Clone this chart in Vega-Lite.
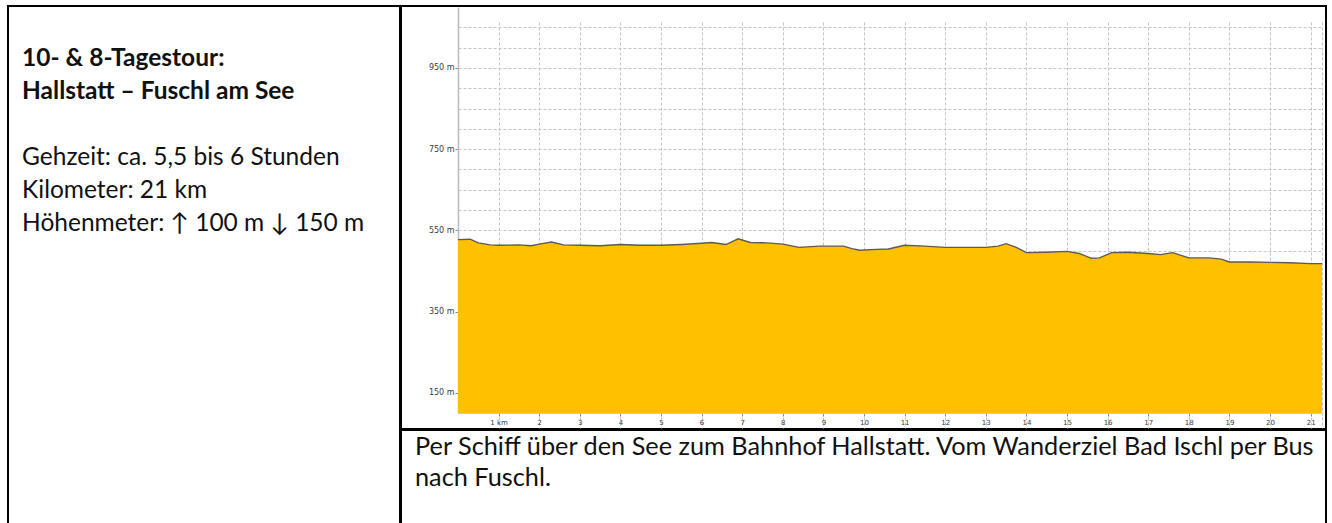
{
  "$schema": "https://vega.github.io/schema/vega-lite/v6.json",
  "padding": {"left": 7, "top": 5, "right": 0, "bottom": 0},
  "background": "#ffffff",
  "spacing": -2,
  "config": {
    "view": {"stroke": "#000000", "strokeWidth": 2},
    "concat": {"spacing": -2},
    "text": {"font": "Lato", "color": "#111111"}
  },
  "hconcat": [
    {
      "width": 392,
      "height": 530,
      "data": {"values": [
        {"line": 1, "part": "heading", "text": "10- & 8-Tagestour:"},
        {"line": 2, "part": "heading", "text": "Hallstatt – Fuschl am See"},
        {"line": 4, "part": "details", "text": "Gehzeit: ca. 5,5 bis 6 Stunden"},
        {"line": 5, "part": "details", "text": "Kilometer: 21 km"},
        {"line": 6, "part": "details", "text": "Höhenmeter: ↑ 100 m ↓ 150 m"}
      ]},
      "encoding": {
        "x": {"datum": 0, "type": "quantitative", "scale": {"domain": [-0.0372, 1], "nice": false, "zero": false}, "axis": null},
        "y": {"field": "line", "type": "quantitative", "scale": {"domain": [-0.818, 15.242], "reverse": true, "nice": false, "zero": false}, "axis": null},
        "text": {"field": "text"}
      },
      "layer": [
        {"transform": [{"filter": "datum.part == 'heading'"}], "mark": {"type": "text", "align": "left", "baseline": "alphabetic", "fontSize": 24.5, "fontWeight": "bold"}},
        {"transform": [{"filter": "datum.part == 'details'"}], "mark": {"type": "text", "align": "left", "baseline": "alphabetic", "fontSize": 24.5}}
      ]
    },
    {
      "spacing": -2,
      "vconcat": [
        {
          "width": 925,
          "height": 423,
          "data": {"values": [
            {"km": 0, "ele": 527}, {"km": 0.3, "ele": 528}, {"km": 0.5, "ele": 519}, {"km": 0.8, "ele": 514},
            {"km": 1.0, "ele": 513}, {"km": 1.5, "ele": 514}, {"km": 1.8, "ele": 512}, {"km": 2.0, "ele": 516},
            {"km": 2.3, "ele": 521}, {"km": 2.6, "ele": 514}, {"km": 3.0, "ele": 513}, {"km": 3.5, "ele": 512},
            {"km": 4.0, "ele": 515}, {"km": 4.5, "ele": 513}, {"km": 5.0, "ele": 513}, {"km": 5.5, "ele": 515},
            {"km": 6.0, "ele": 518}, {"km": 6.25, "ele": 520}, {"km": 6.6, "ele": 515}, {"km": 6.9, "ele": 529},
            {"km": 7.2, "ele": 520}, {"km": 7.6, "ele": 519}, {"km": 8.0, "ele": 516}, {"km": 8.4, "ele": 508},
            {"km": 8.9, "ele": 511}, {"km": 9.5, "ele": 511}, {"km": 9.7, "ele": 505}, {"km": 9.9, "ele": 501},
            {"km": 10.3, "ele": 503}, {"km": 10.6, "ele": 504}, {"km": 11.0, "ele": 513}, {"km": 11.5, "ele": 511},
            {"km": 12.0, "ele": 508}, {"km": 12.5, "ele": 508}, {"km": 13.0, "ele": 508}, {"km": 13.3, "ele": 511},
            {"km": 13.5, "ele": 517}, {"km": 13.75, "ele": 508}, {"km": 14.0, "ele": 495}, {"km": 14.5, "ele": 496},
            {"km": 15.0, "ele": 498}, {"km": 15.3, "ele": 493}, {"km": 15.6, "ele": 481}, {"km": 15.8, "ele": 482},
            {"km": 16.1, "ele": 495}, {"km": 16.5, "ele": 496}, {"km": 17.0, "ele": 493}, {"km": 17.3, "ele": 490},
            {"km": 17.6, "ele": 495}, {"km": 18.0, "ele": 482}, {"km": 18.5, "ele": 482}, {"km": 18.8, "ele": 479},
            {"km": 19.0, "ele": 472}, {"km": 19.5, "ele": 472}, {"km": 20.0, "ele": 471}, {"km": 20.5, "ele": 470},
            {"km": 21.0, "ele": 468}, {"km": 21.28, "ele": 468}
          ]},
          "mark": {"type": "area", "color": "#FFC000", "opacity": 1, "line": {"color": "#5A5A5A", "strokeWidth": 1.4}},
          "encoding": {
            "x": {
              "field": "km", "type": "quantitative",
              "scale": {"domain": [0, 21.28], "range": [57, 921], "nice": false, "zero": false},
              "axis": {
                "title": null,
                "values": [1,2,3,4,5,6,7,8,9,10,11,12,13,14,15,16,17,18,19,20,21,21.28],
                "labelExpr": "datum.value == 1 ? '1 km' : (datum.value > 21.1 ? '' : datum.label)",
                "offset": -16,
                "grid": true,
                "gridColor": "#C4C4C4",
                "gridDash": [3, 2],
                "gridWidth": 1,
                "domainColor": "#C8C8C8",
                "domainWidth": 1,
                "tickColor": "#888888",
                "tickSize": 3,
                "tickOpacity": {"condition": {"test": "datum.value > 21.1", "value": 0}, "value": 1},
                "labelFont": "DejaVu Sans",
                "labelFontSize": 7,
                "labelColor": "#3C3C3C",
                "labelPadding": 2,
                "labelFlush": false,
                "labelOverlap": false
              }
            },
            "y": {
              "field": "ele", "type": "quantitative",
              "scale": {"domain": [100, 1100], "range": [407, 1], "nice": false, "zero": false},
              "axis": {
                "title": null,
                "values": [150,200,250,300,350,400,450,500,550,600,650,700,750,800,850,900,950,1000,1050],
                "labelExpr": "datum.value % 200 == 150 ? datum.value + ' m' : ''",
                "offset": -57,
                "grid": true,
                "gridColor": "#C4C4C4",
                "gridDash": [3, 2],
                "gridWidth": 1,
                "domainColor": "#BBBBBB",
                "domainWidth": 1.5,
                "tickColor": "#888888",
                "tickSize": 3,
                "tickOpacity": {"condition": {"test": "datum.value % 200 == 150", "value": 1}, "value": 0},
                "labelFont": "DejaVu Sans",
                "labelFontSize": 8,
                "labelColor": "#3C3C3C",
                "labelPadding": 1,
                "labelOverlap": false,
                "labelFlush": false
              }
            },
            "y2": {"datum": 100}
          }
        },
        {
          "width": 925,
          "height": 120,
          "data": {"values": [
            {"line": 1, "text": "Per Schiff über den See zum Bahnhof Hallstatt. Vom Wanderziel Bad Ischl per Bus"},
            {"line": 2, "text": "nach Fuschl."}
          ]},
          "mark": {"type": "text", "align": "left", "baseline": "alphabetic", "fontSize": 25.3},
          "encoding": {
            "x": {"datum": 0, "type": "quantitative", "scale": {"domain": [-0.01537, 1], "nice": false, "zero": false}, "axis": null},
            "y": {"field": "line", "type": "quantitative", "scale": {"domain": [0.18, 4.114], "reverse": true, "nice": false, "zero": false}, "axis": null},
            "text": {"field": "text"}
          }
        }
      ]
    }
  ]
}
